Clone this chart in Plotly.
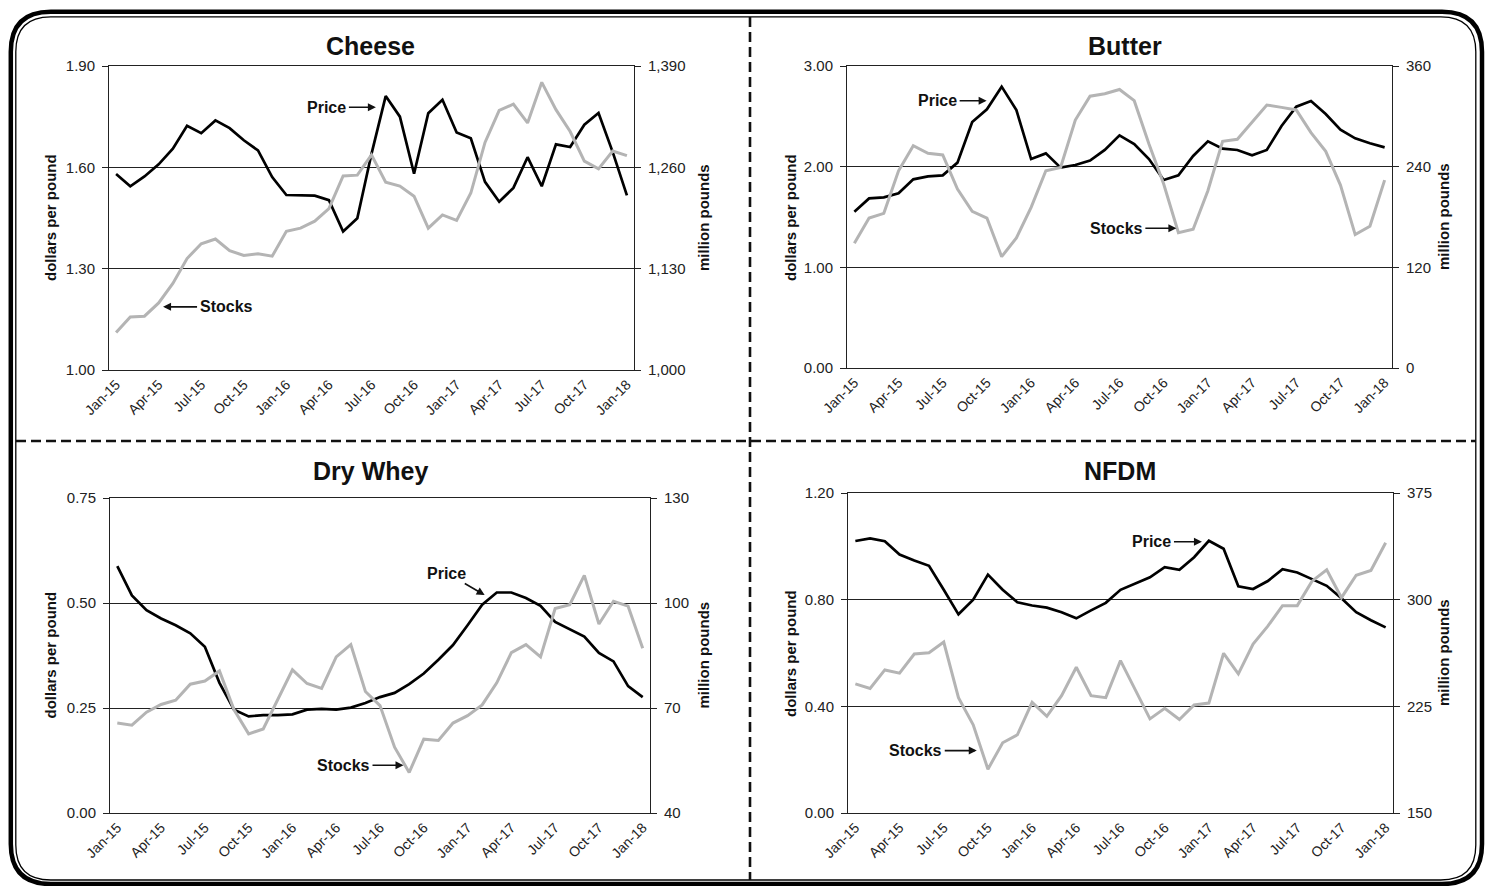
import plotly.graph_objects as go

W, H = 1491, 886

months = ["Jan-15", "Feb-15", "Mar-15", "Apr-15", "May-15", "Jun-15", "Jul-15", "Aug-15", "Sep-15",
          "Oct-15", "Nov-15", "Dec-15", "Jan-16", "Feb-16", "Mar-16", "Apr-16", "May-16", "Jun-16",
          "Jul-16", "Aug-16", "Sep-16", "Oct-16", "Nov-16", "Dec-16", "Jan-17", "Feb-17", "Mar-17",
          "Apr-17", "May-17", "Jun-17", "Jul-17", "Aug-17", "Sep-17", "Oct-17", "Nov-17", "Dec-17", "Jan-18"]
tick_labels = ["Jan-15", "Apr-15", "Jul-15", "Oct-15", "Jan-16", "Apr-16", "Jul-16", "Oct-16",
               "Jan-17", "Apr-17", "Jul-17", "Oct-17", "Jan-18"]

cheese_price = [1.580, 1.544, 1.573, 1.609, 1.655, 1.723, 1.701, 1.739, 1.716, 1.680, 1.650, 1.571,
                1.518, 1.518, 1.516, 1.503, 1.410, 1.449, 1.640, 1.811, 1.750, 1.581, 1.760, 1.800,
                1.703, 1.686, 1.557, 1.498, 1.539, 1.630, 1.544, 1.668, 1.660, 1.726, 1.761, 1.645, 1.517]
cheese_stocks = [1048, 1068, 1069, 1086, 1111, 1143, 1162, 1168, 1153, 1147, 1149, 1146,
                 1178, 1182, 1191, 1207, 1249, 1250, 1276, 1241, 1236, 1223, 1182, 1199,
                 1192, 1227, 1292, 1333, 1341, 1317, 1369, 1334, 1306, 1268, 1258, 1281, 1275]

butter_price = [1.553, 1.685, 1.695, 1.735, 1.874, 1.904, 1.914, 2.040, 2.444, 2.570, 2.795, 2.563,
                2.076, 2.132, 1.990, 2.017, 2.060, 2.166, 2.311, 2.225, 2.076, 1.868, 1.914, 2.106,
                2.252, 2.179, 2.166, 2.113, 2.166, 2.404, 2.596, 2.652, 2.523, 2.368, 2.281, 2.232, 2.192]
butter_stocks = [148.6, 178.8, 184.4, 235.0, 265.0, 256.0, 254.0, 213.4, 186.7, 178.8, 132.7, 155.0,
                 191.5, 235.2, 239.0, 295.6, 324.0, 327.0, 332.0, 318.7, 267.0, 219.3, 161.3, 165.3,
                 211.4, 270.2, 272.6, 292.9, 313.5, 310.7, 307.6, 280.5, 258.3, 218.0, 159.0, 168.9, 224.0]

whey_price = [0.588, 0.518, 0.483, 0.463, 0.447, 0.428, 0.396, 0.310, 0.246, 0.230, 0.233, 0.233,
              0.235, 0.246, 0.248, 0.246, 0.251, 0.262, 0.276, 0.286, 0.307, 0.332, 0.365, 0.400,
              0.447, 0.496, 0.525, 0.525, 0.512, 0.493, 0.455, 0.437, 0.420, 0.381, 0.361, 0.302, 0.276]
whey_stocks = [65.7, 65.1, 68.8, 71.0, 72.2, 76.8, 77.7, 80.6, 69.5, 62.6, 64.0, 72.6,
               80.9, 77.0, 75.6, 84.6, 88.1, 74.7, 70.7, 58.8, 51.6, 61.1, 60.7, 65.7,
               67.8, 70.9, 77.2, 85.8, 88.1, 84.6, 98.4, 99.5, 107.9, 94.0, 100.5, 99.1, 87.1]

nfdm_price = [1.020, 1.030, 1.019, 0.969, 0.947, 0.927, 0.837, 0.745, 0.800, 0.894, 0.837, 0.790,
              0.778, 0.770, 0.753, 0.730, 0.760, 0.788, 0.837, 0.860, 0.884, 0.922, 0.912, 0.959,
              1.021, 0.991, 0.850, 0.840, 0.870, 0.914, 0.902, 0.877, 0.852, 0.805, 0.753, 0.723, 0.696]
nfdm_stocks = [240.8, 237.6, 250.6, 248.3, 261.8, 262.7, 270.2, 231.1, 212.0, 180.8, 199.4, 205.0,
               227.8, 218.0, 232.5, 252.5, 232.5, 231.1, 257.1, 236.2, 216.2, 223.6, 215.7, 226.0,
               227.3, 262.3, 247.8, 268.8, 281.4, 295.8, 295.8, 313.0, 321.0, 301.4, 317.2, 320.5, 340.0]

FONT = "Liberation Sans, Arial, sans-serif"
BLACK = "#000000"
GREY = "#b4b4b4"


def px(x):
    return x / W


def py(y):
    return 1 - y / H


panels = [
    dict(title="Cheese", price=cheese_price, stocks=cheese_stocks,
         box=(109, 634, 66, 370), prange=(1.0, 1.9), pticks=[1.0, 1.3, 1.6, 1.9],
         srange=(1000, 1390), sticks=[1000, 1130, 1260, 1390], sfmt=",",
         title_xy=(370, 46), ltitle_x=50, rtitle_x=703,
         price_ann=(18.31, 1.778, -49, 0), stocks_ann=(3.31, 1.187, 63, 0)),
    dict(title="Butter", price=butter_price, stocks=butter_stocks,
         box=(847, 1392, 66, 368), prange=(0.0, 3.0), pticks=[0.0, 1.0, 2.0, 3.0],
         srange=(0, 360), sticks=[0, 120, 240, 360], sfmt="",
         title_xy=(1125, 46), ltitle_x=790, rtitle_x=1443,
         price_ann=(8.98, 2.655, -49, 0), stocks_ann=(21.86, 1.388, -60, 0)),
    dict(title="Dry Whey", price=whey_price, stocks=whey_stocks,
         box=(110, 650, 498, 813), prange=(0.0, 0.75), pticks=[0.0, 0.25, 0.5, 0.75],
         srange=(40, 130), sticks=[40, 70, 100, 130], sfmt="",
         title_xy=(370, 471), ltitle_x=50, rtitle_x=703,
         price_ann=(25.17, 0.519, -38, -22), stocks_ann=(19.61, 0.1136, -60, 0)),
    dict(title="NFDM", price=nfdm_price, stocks=nfdm_stocks,
         box=(848, 1393, 493, 813), prange=(0.0, 1.2), pticks=[0.0, 0.4, 0.8, 1.2],
         srange=(150, 375), sticks=[150, 225, 300, 375], sfmt="",
         title_xy=(1120, 471), ltitle_x=790, rtitle_x=1443,
         price_ann=(23.53, 1.017, -50, 0), stocks_ann=(8.24, 0.234, -61, 0)),
]

fig = go.Figure()
layout = dict(
    width=W, height=H, margin=dict(l=0, r=0, t=0, b=0, autoexpand=False),
    paper_bgcolor="white", plot_bgcolor="white", showlegend=False,
    font=dict(family=FONT, color="#222222"),
)
annotations = []
shapes = []

xi = list(range(len(months)))
tickvals = list(range(0, len(months), 3))

for k, p in enumerate(panels):
    xn = "x" if k == 0 else f"x{k + 1}"
    yl = "y" if k == 0 else f"y{2 * k + 1}"
    yr = f"y{2 * k + 2}"
    x0, x1, y0, y1 = p["box"]
    fig.add_trace(go.Scatter(x=xi, y=p["stocks"], mode="lines", xaxis=xn, yaxis=yr,
                             line=dict(color=GREY, width=3), hoverinfo="skip"))
    fig.add_trace(go.Scatter(x=xi, y=p["price"], mode="lines", xaxis=xn, yaxis=yl,
                             line=dict(color=BLACK, width=2.7), hoverinfo="skip"))
    xkey = "xaxis" if k == 0 else f"xaxis{k + 1}"
    ylkey = "yaxis" if k == 0 else f"yaxis{2 * k + 1}"
    yrkey = f"yaxis{2 * k + 2}"
    layout[xkey] = dict(
        domain=[px(x0), px(x1)], anchor=yl, range=[-0.5, len(months) - 0.5],
        tickvals=tickvals, ticktext=tick_labels, tickangle=-45, automargin=False,
        tickfont=dict(size=14, family=FONT, color="#222222"),
        showline=True, linecolor="#222222", linewidth=1, mirror=True,
        showgrid=False, zeroline=False, ticks="", fixedrange=True,
    )
    layout[ylkey] = dict(
        domain=[py(y1), py(y0)], anchor=xn, range=list(p["prange"]),
        tickvals=p["pticks"], tickformat=".2f", automargin=False,
        tickfont=dict(size=15, family=FONT, color="#222222"), ticklabelstandoff=4,
        showline=True, linecolor="#222222", linewidth=1,
        ticks="outside", ticklen=6, tickcolor="#222222",
        showgrid=True, gridcolor="#222222", gridwidth=1, zeroline=False,
    )
    layout[yrkey] = dict(
        overlaying=yl, anchor=xn, side="right", range=list(p["srange"]),
        tickvals=p["sticks"], tickformat=p["sfmt"], automargin=False,
        tickfont=dict(size=15, family=FONT, color="#222222"), ticklabelstandoff=4,
        showline=True, linecolor="#222222", linewidth=1,
        ticks="outside", ticklen=6, tickcolor="#222222",
        showgrid=False, zeroline=False,
    )
    tx, ty = p["title_xy"]
    annotations.append(dict(x=px(tx), y=py(ty), xref="paper", yref="paper",
                            text=f"<b>{p['title']}</b>", showarrow=False,
                            font=dict(size=25, family=FONT, color="#111111"),
                            xanchor="center", yanchor="middle"))
    ymid = (y0 + y1) / 2
    annotations.append(dict(x=px(p["ltitle_x"]), y=py(ymid), xref="paper", yref="paper",
                            text="<b>dollars per pound</b>", textangle=-90, showarrow=False,
                            font=dict(size=15, family=FONT, color="#111111"),
                            xanchor="center", yanchor="middle"))
    annotations.append(dict(x=px(p["rtitle_x"]), y=py(ymid), xref="paper", yref="paper",
                            text="<b>million pounds</b>", textangle=-90, showarrow=False,
                            font=dict(size=15, family=FONT, color="#111111"),
                            xanchor="center", yanchor="middle"))
    for label, (ax_, ay_, dx, dy) in (("Price", p["price_ann"]), ("Stocks", p["stocks_ann"])):
        annotations.append(dict(x=ax_, y=ay_, xref=xn, yref=yl, ax=dx, ay=dy,
                                text=f"<b>{label}</b>", showarrow=True,
                                arrowhead=2, arrowsize=1, arrowwidth=1.6, arrowcolor="#111111",
                                font=dict(size=16, family=FONT, color="#111111"),
                                standoff=0, startstandoff=1))


def rounded_rect(l, t, r, b, rad):
    return (f"M {px(l + rad)},{py(t)} L {px(r - rad)},{py(t)} "
            f"Q {px(r)},{py(t)} {px(r)},{py(t + rad)} "
            f"L {px(r)},{py(b - rad)} Q {px(r)},{py(b)} {px(r - rad)},{py(b)} "
            f"L {px(l + rad)},{py(b)} Q {px(l)},{py(b)} {px(l)},{py(b - rad)} "
            f"L {px(l)},{py(t + rad)} Q {px(l)},{py(t)} {px(l + rad)},{py(t)} Z")


shapes.append(dict(type="path", xref="paper", yref="paper",
                   path=rounded_rect(10.8, 11.7, 1482, 884, 40),
                   line=dict(color="#000000", width=4.5), layer="above"))
shapes.append(dict(type="path", xref="paper", yref="paper",
                   path=rounded_rect(15.8, 16.8, 1475.8, 880, 35),
                   line=dict(color="#000000", width=1.3), layer="above"))
shapes.append(dict(type="line", xref="paper", yref="paper",
                   x0=px(750), x1=px(750), y0=py(17), y1=py(880),
                   line=dict(color="#111111", width=2.6, dash="10px,5px")))
shapes.append(dict(type="line", xref="paper", yref="paper",
                   x0=px(16), x1=px(1476), y0=py(441), y1=py(441),
                   line=dict(color="#111111", width=2.6, dash="10px,5px")))

layout["annotations"] = annotations
layout["shapes"] = shapes
fig.update_layout(**layout)
fig.write_html(
    "out.html",
    config={"displayModeBar": False},
    post_script="document.body.style.margin='0';document.body.style.overflow='hidden';",
)
